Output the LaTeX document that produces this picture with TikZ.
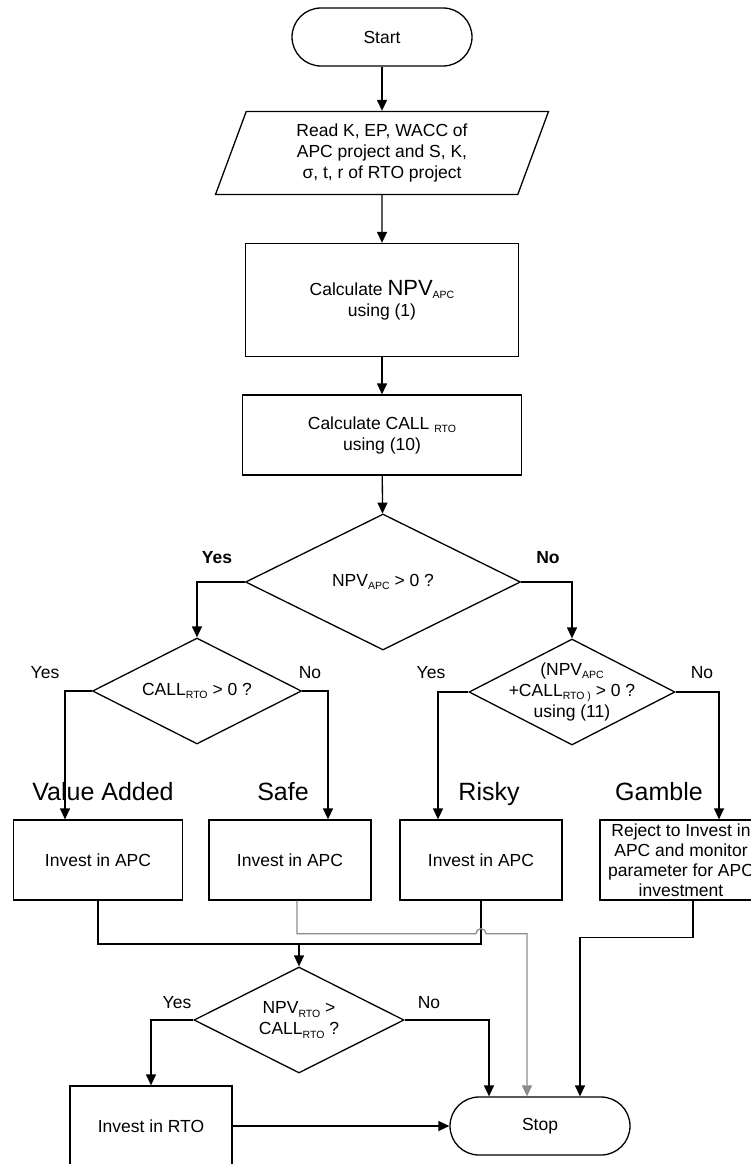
\documentclass[tikz,border=0pt]{standalone}
\usepackage{fontspec}
\setmainfont{Liberation Sans}
\usepackage{tikz}
\usetikzlibrary{arrows.meta,positioning,calc,shapes.geometric}

\newcommand{\lowtxt}[1]{\raisebox{-0.35ex}{\fontsize{10.5}{11}\selectfont #1}}

\begin{document}
\begin{tikzpicture}[
  x=1pt,y=1pt,>={Triangle[length=11pt,width=10pt]},
  flow/.style={->,line width=1.3pt},
  grayflow/.style={->,line width=1.3pt,draw=black!45},
  terminal/.style={draw,line width=1.3pt,rounded corners=29pt,
    minimum width=180pt,minimum height=58pt},
  inputbox/.style={draw,line width=1.3pt,trapezium,
    trapezium left angle=63,trapezium right angle=117,
    trapezium stretches body,minimum width=333pt,minimum height=83pt,
    align=center,inner sep=1pt},
  procbox/.style={draw,line width=1.3pt,minimum width=162pt,
    minimum height=80pt,align=center,inner sep=1pt},
  decision/.style={draw,line width=1.3pt,diamond,aspect=2,
    inner sep=-12pt,align=center},
  answer/.style={inner sep=1pt},
  keyanswer/.style={answer,font=\fontsize{17.5}{21}\selectfont\bfseries},
  outcome/.style={anchor=base,font=\fontsize{25}{28}\selectfont},
  every node/.style={font=\fontsize{17.5}{21}\selectfont}
]
  \useasboundingbox (0,0) rectangle (751,-1164);
  \clip (0,0) rectangle (751,-1164);

  \node[terminal] (start) at (382,-37) {Start};
  \node[inputbox] (read) at (382,-153)
    {Read K, EP, WACC of\\APC project and S, K,\\σ, t, r of RTO project};
  \node[procbox,minimum width=273pt,minimum height=113pt] (calc-npv) at (382,-300)
    {Calculate {\fontsize{22}{22}\selectfont NPV}\lowtxt{APC}\\using (1)};
  \node[procbox,minimum width=279pt] (calc-call) at (382,-435)
    {Calculate CALL \lowtxt{RTO}\\using (10)};

  \node[decision,minimum width=275pt,minimum height=136pt] (dec-npv) at (383,-582)
    {NPV\lowtxt{APC} > 0 ?};
  \node[decision,minimum width=209pt,minimum height=106pt] (dec-call) at (197,-691)
    {CALL\lowtxt{RTO} > 0 ?};
  \node[decision,minimum width=206pt,minimum height=106pt] (dec-sum) at (572,-692)
    {(NPV\lowtxt{APC}\\+CALL\lowtxt{RTO )} > 0 ?\\using (11)};

  \node[keyanswer] (yes-npv) at (217,-558) {Yes};
  \node[keyanswer] (no-npv) at (548,-558) {No};
  \node[answer] (yes-call) at (45,-673) {Yes};
  \node[answer] (no-call) at (310,-673) {No};
  \node[answer] (yes-sum) at (431,-673) {Yes};
  \node[answer] (no-sum) at (702,-673) {No};

  \node[outcome] (value-added-label) at (103,-800) {Value Added};
  \node[outcome] (safe-label) at (283,-800) {Safe};
  \node[outcome] (risky-label) at (489,-800) {Risky};
  \node[outcome] (gamble-label) at (659,-800) {Gamble};

  \node[procbox,minimum width=169pt] (value-added) at (98,-860) {Invest in APC};
  \node[procbox] (safe) at (290,-860) {Invest in APC};
  \node[procbox] (risky) at (481,-860) {Invest in APC};
  \node[procbox,font=\fontsize{17.5}{20}\selectfont] (gamble) at (681,-860)
    {Reject to Invest in\\APC and monitor\\parameter for APC\\investment};

  \node[decision,minimum width=210pt,minimum height=106pt] (dec-rto) at (299,-1020)
    {NPV\lowtxt{RTO} >\\CALL\lowtxt{RTO} ?};
  \node[answer] (yes-rto) at (177,-1003) {Yes};
  \node[answer] (no-rto) at (429,-1003) {No};

  \node[procbox] (invest-rto) at (151,-1126) {Invest in RTO};
  \node[terminal] (stop) at (540,-1126) {Stop};

  \coordinate (merge) at (299,-944);
  \coordinate (hop) at ($(risky.south)+(0,-33)$);

  \draw[flow] (start) -- (read);
  \draw[flow] (read) -- (calc-npv);
  \draw[flow] (calc-npv) -- (calc-call);
  \draw[flow] (calc-call) -- (dec-npv);
  \draw[flow] (dec-npv.west) -| (dec-call.north);
  \draw[flow] (dec-npv.east) -| (dec-sum.north);
  \draw[flow] (dec-call.west) -| ([xshift=-33pt]value-added.north);
  \draw[flow] (dec-call.east) -| ([xshift=38pt]safe.north);
  \draw[flow] (dec-sum.west) -| ([xshift=-43pt]risky.north);
  \draw[flow] (dec-sum.east) -| ([xshift=38pt]gamble.north);

  \draw[line width=1.3pt] (value-added.south) |- (merge) -| (risky.south);
  \draw[flow] (merge) -- (dec-rto);
  \draw[grayflow] ([xshift=7pt]safe.south) |- ([xshift=-5pt]hop)
    arc[start angle=180,end angle=0,radius=5pt] -| ([xshift=-13pt]stop.north);
  \draw[flow] ([xshift=12pt]gamble.south) -- ++(0,-37) -| ([xshift=40pt]stop.north);

  \draw[flow] (dec-rto.west) -| (invest-rto.north);
  \draw[flow] (dec-rto.east) -| ([xshift=-51pt]stop.north);
  \draw[flow] (invest-rto) -- (stop);
\end{tikzpicture}
\end{document}
